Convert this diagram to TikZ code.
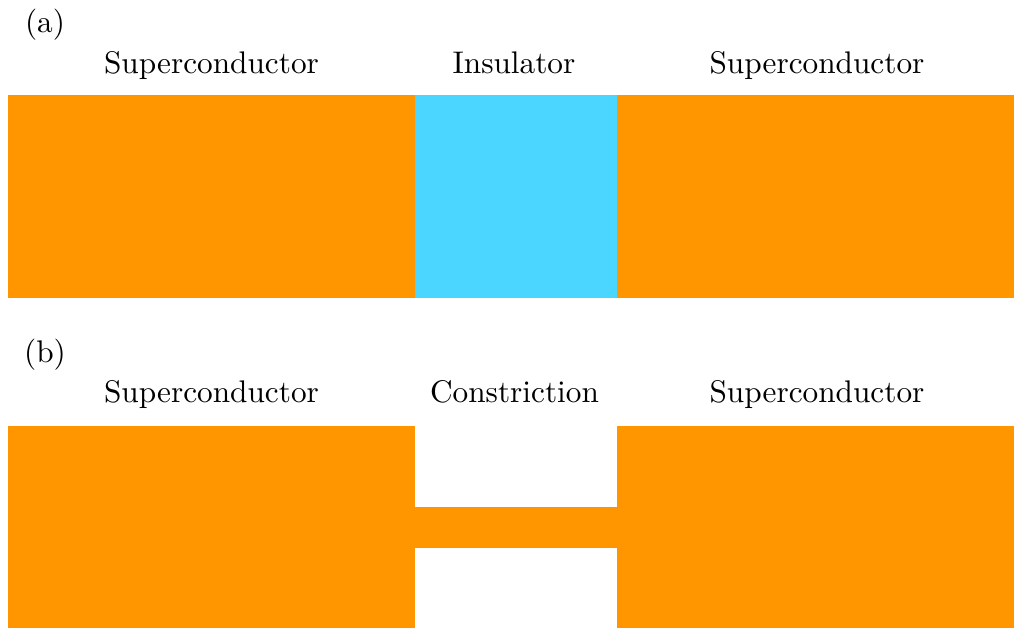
\documentclass[tikz,border=0pt]{standalone}
\usepackage{xcolor}
\definecolor{scorange}{RGB}{255,150,0}
\definecolor{insblue}{RGB}{74,214,255}

\begin{document}
\begin{tikzpicture}[x=.0104cm,y=-.0104cm,line cap=round,line join=round,
  lbl/.style={anchor=base,scale=.926}]
\useasboundingbox (0,0) rectangle (1014,628);
% (a) tunnel junction
\node[lbl] (lbla) at (45,33) {(a)};
\node[lbl] (sc1) at (211.5,74) {Superconductor};
\node[lbl] (ins) at (514,74) {Insulator};
\node[lbl] (sc2) at (817,74) {Superconductor};
\fill[scorange] (8,95) rectangle (415,298);
\fill[insblue] (415,95) rectangle (617,298);
\fill[scorange] (617,95) rectangle (1014,298);
% (b) weak link
\node[lbl] (lblb) at (45,363) {(b)};
\node[lbl] (sc3) at (211.5,403) {Superconductor};
\node[lbl] (con) at (514.5,403) {Constriction};
\node[lbl] (sc4) at (817,403) {Superconductor};
\fill[scorange] (8,426) rectangle (415,628);
\fill[scorange] (415,507) rectangle (617,548);
\fill[scorange] (617,426) rectangle (1014,628);
\end{tikzpicture}
\end{document}
